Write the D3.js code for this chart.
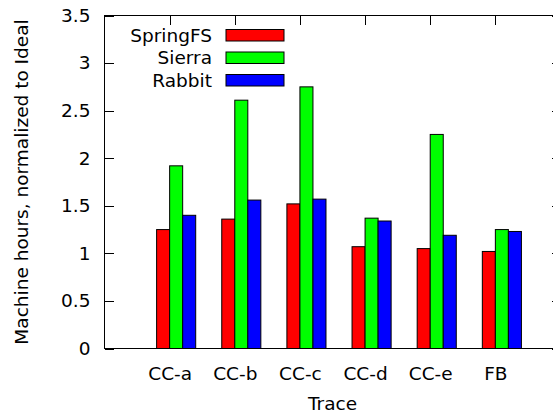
<!DOCTYPE html>
<html>
<head>
<meta charset="utf-8">
<script src="https://cdn.jsdelivr.net/npm/d3@7"></script>
<style>
  html, body { margin: 0; padding: 0; background: #fff; }
  svg { display: block; }
  text { font-family: "DejaVu Sans", sans-serif; fill: #000; }
</style>
</head>
<body>
<svg id="chart" width="553" height="413"></svg>
<script>
const categories = ["CC-a", "CC-b", "CC-c", "CC-d", "CC-e", "FB"];
const seriesNames = ["SpringFS", "Sierra", "Rabbit"];
const springfs = [1.25, 1.36, 1.52, 1.07, 1.05, 1.02];
const sierra = [1.92, 2.61, 2.75, 1.37, 2.25, 1.25];
const rabbit = [1.40, 1.56, 1.57, 1.34, 1.19, 1.23];
const colors = ["#ff0000", "#00ff00", "#0000ff"];
const yTicks = [0, 0.5, 1, 1.5, 2, 2.5, 3, 3.5];
const yTickLabels = ["0", "0.5", "1", "1.5", "2", "2.5", "3", "3.5"];
const xTitle = "Trace";
const yTitle = "Machine hours, normalized to Ideal";

(function () {
const series = [springfs, sierra, rabbit];
const svg = d3.select("#chart");
const pL = 104.5, pT = 15.5, pB = 348.5, pR = 560.5;
const fontSize = 18.5;
const tickLen = 9;

const x = d3.scaleLinear().domain([-1, 6]).range([pL, pR]);
const y = d3.scaleLinear().domain([0, 3.5]).range([pB, pT]);
const barW = 0.2;

// Frame
svg.append("rect")
  .attr("x", pL).attr("y", pT)
  .attr("width", pR - pL).attr("height", pB - pT)
  .attr("fill", "none").attr("stroke", "#000").attr("stroke-width", 1);

// Y axes (left, inward ticks) and right mirror
const yAxisL = d3.axisRight(y).tickValues(yTicks).tickSize(tickLen).tickFormat("");
const gyl = svg.append("g").attr("transform", `translate(${pL},0)`).call(yAxisL);
gyl.select(".domain").remove();
const yAxisR = d3.axisLeft(y).tickValues(yTicks).tickSize(tickLen).tickFormat("");
const gyr = svg.append("g").attr("transform", `translate(${pR},0)`).call(yAxisR);
gyr.select(".domain").remove();

// Y labels
const yLabelAxis = d3.axisLeft(y).tickValues(yTicks).tickSize(0).tickPadding(0)
  .tickFormat((d, i) => yTickLabels[i]);
const gyLab = svg.append("g").attr("transform", `translate(${pL - 14},0)`).call(yLabelAxis);
gyLab.select(".domain").remove();
gyLab.selectAll("text").style("font-family", "DejaVu Sans").style("font-size", fontSize + "px")
  .attr("fill", "#000");

// X axes: bottom ticks (inward) and top mirror
const xIdx = d3.range(categories.length);
const xAxisB = d3.axisTop(x).tickValues(xIdx).tickSize(tickLen).tickFormat("");
const gxb = svg.append("g").attr("transform", `translate(0,${pB})`).call(xAxisB);
gxb.select(".domain").remove();
const xAxisT = d3.axisBottom(x).tickValues(xIdx).tickSize(tickLen).tickFormat("");
const gxt = svg.append("g").attr("transform", `translate(0,${pT})`).call(xAxisT);
gxt.select(".domain").remove();
svg.selectAll(".tick line").attr("stroke", "#000").attr("shape-rendering", "crispEdges");

// X labels
const xLabelAxis = d3.axisBottom(x).tickValues(xIdx).tickSize(0).tickPadding(0)
  .tickFormat(i => categories[i]);
const gxLab = svg.append("g").attr("transform", `translate(0,${pB + 16})`).call(xLabelAxis);
gxLab.select(".domain").remove();
gxLab.selectAll("text").style("font-family", "DejaVu Sans").style("font-size", fontSize + "px")
  .attr("fill", "#000").attr("dy", "0.85em");

// Bars
series.forEach((vals, s) => {
  svg.append("g").selectAll("rect")
    .data(vals)
    .join("rect")
    .attr("x", (d, i) => x(i - barW + s * barW))
    .attr("y", d => y(d))
    .attr("width", x(barW) - x(0))
    .attr("height", d => y(0) - y(d))
    .attr("fill", colors[s])
    .attr("stroke", "#000")
    .attr("stroke-width", 1);
});

// Bottom border redraw on top
svg.append("line").attr("x1", pL).attr("x2", pR).attr("y1", pB).attr("y2", pB)
  .attr("stroke", "#000").attr("stroke-width", 1);

// Legend
const legend = svg.append("g");
seriesNames.forEach((name, s) => {
  const cy = 35 + s * 22.5;
  legend.append("text")
    .attr("x", 212).attr("y", cy + 6.5)
    .attr("text-anchor", "end")
    .style("font-size", fontSize + "px")
    .text(name);
  legend.append("rect")
    .attr("x", 226).attr("y", cy - 5.5)
    .attr("width", 58).attr("height", 11.5)
    .attr("fill", colors[s]).attr("stroke", "#000").attr("stroke-width", 1);
});

// Axis titles
svg.append("text")
  .attr("x", (pL + pR) / 2).attr("y", 410)
  .attr("text-anchor", "middle")
  .style("font-size", fontSize + "px")
  .text(xTitle);
svg.append("text")
  .attr("transform", `translate(28,${(pT + pB) / 2}) rotate(-90)`)
  .attr("text-anchor", "middle")
  .style("font-size", fontSize + "px")
  .text(yTitle);
})();
</script>
</body>
</html>
